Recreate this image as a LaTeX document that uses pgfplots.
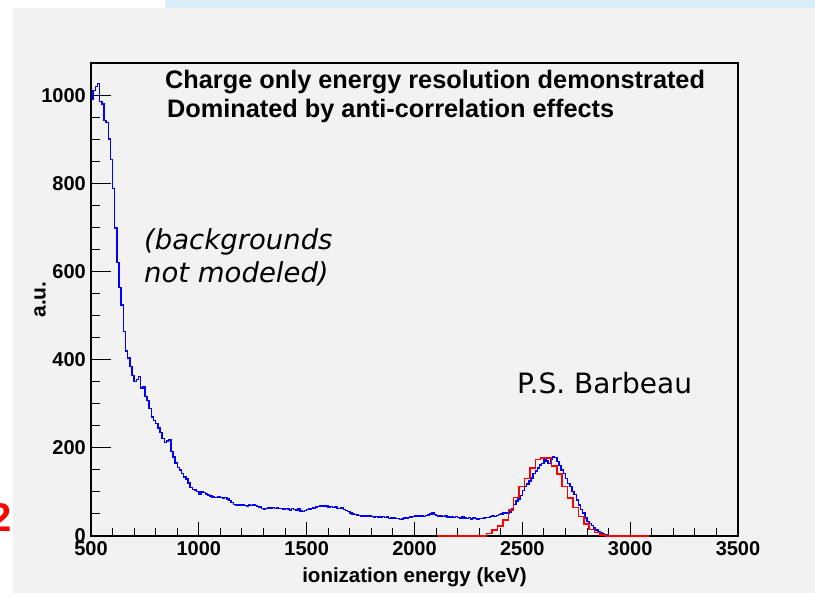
\documentclass[border=0pt]{standalone}
\usepackage{pgfplots}
\pgfplotsset{compat=1.18}
\usepackage{pgfplotstable}
\usepackage{fontspec}
\setmainfont{Liberation Sans}
\newfontfamily\dejavu{DejaVu Sans}
\definecolor{bggray}{HTML}{F2F2F2}
\definecolor{barblue}{HTML}{DCEDFA}
\definecolor{rootblue}{RGB}{0,0,255}
\definecolor{rootred}{RGB}{255,0,0}

\pgfplotstableread{
E V
500 993
510 1012
520 1022
530 1028
540 988
550 982
560 944
570 940
580 902
590 856
600 790
610 700
620 622
630 565
640 525
650 465
660 420
670 404
680 385
690 365
700 351
710 356
720 362
730 336
740 340
750 317
760 308
770 290
780 270
790 263
800 256
810 246
820 235
830 222
840 213
850 216
860 218
870 192
880 180
890 166
900 156
910 150
920 142
930 134
940 129
950 120
960 110
970 106
980 104
990 101
1000 95
1010 100
1020 99
1030 95
1040 93
1050 91
1060 89
1070 88
1080 87
1090 89
1100 88
1110 86
1120 88
1130 84
1140 81
1150 76
1160 72
1170 70
1180 71
1190 69
1200 70
1210 69
1220 68
1230 70
1240 69
1250 70
1260 69
1270 67
1280 66
1290 62
1300 61
1310 63
1320 64
1330 62
1340 65
1350 63
1360 64
1370 62
1380 62
1390 60
1400 63
1410 61
1420 59
1430 62
1440 60
1450 58
1460 62
1470 57
1480 56
1490 58
1500 60
1510 61
1520 63
1530 64
1540 66
1550 67
1560 68
1570 69
1580 67
1590 68
1600 66
1610 67
1620 65
1630 66
1640 63
1650 62
1660 64
1670 60
1680 58
1690 56
1700 52
1710 50
1720 49
1730 48
1740 47
1750 46
1760 45
1770 45
1780 44
1790 46
1800 44
1810 43
1820 44
1830 43
1840 42
1850 44
1860 42
1870 43
1880 40
1890 41
1900 42
1910 40
1920 40
1930 38
1940 39
1950 41
1960 40
1970 42
1980 43
1990 44
2000 45
2010 46
2020 45
2030 46
2040 44
2050 47
2060 48
2070 50
2080 52
2090 49
2100 47
2110 46
2120 45
2130 44
2140 46
2150 43
2160 44
2170 43
2180 42
2190 44
2200 42
2210 41
2220 43
2230 41
2240 40
2250 42
2260 39
2270 41
2280 40
2290 39
2300 40
2310 40
2320 41
2330 42
2340 42
2350 44
2360 45
2370 44
2380 47
2390 49
2400 50
2410 52
2420 53
2430 52
2440 55
2450 63
2460 72
2470 79
2480 84
2490 92
2500 103
2510 113
2520 118
2530 125
2540 132
2550 142
2560 148
2570 154
2580 161
2590 165
2600 173
2610 170
2620 165
2630 175
2640 180
2650 178
2660 169
2670 160
2680 150
2690 142
2700 131
2710 119
2720 113
2730 101
2740 94
2750 82
2760 71
2770 60
2780 52
2790 41
2800 33
2810 28
2820 24
2830 18
2840 14
2850 10
2860 7
2870 4
2880 3
2890 2
2900 1
2910 0
}\bluedata

\pgfplotstableread{
E V
2110 0
2135 0
2160 0
2185 0
2210 0
2235 0
2260 0
2285 0
2310 0
2335 6
2360 14
2385 23
2410 36
2435 59
2460 88
2485 112
2510 131
2535 154
2560 174
2585 177
2610 177
2635 159
2660 141
2685 112
2710 86
2735 65
2760 44
2785 27
2810 15
2835 8
2860 2
2885 0
2910 0
2935 0
2960 0
2985 0
3010 0
3035 0
3060 0
3085 0
}\reddata

\begin{document}
\begin{tikzpicture}
% slide background
\fill[white] (-91pt,-57pt) rectangle (724pt,536pt);
\fill[bggray] (-78pt,-57pt) rectangle (724pt,528pt);
\fill[barblue] (74pt,528pt) rectangle (724pt,536pt);
\begin{scope}
\clip (-91pt,-57pt) rectangle (-78pt,536pt);
\node[anchor=base east, inner sep=0pt, text=rootred, font=\bfseries\fontsize{40}{40}\selectfont] at (-79pt,4pt) {2};
\end{scope}

\pgfplotsset{
  rootaxis/.style={
    scale only axis, width=647pt, height=473pt,
    xmin=500, xmax=3500, ymin=0, ymax=1075,
    tick align=inside,
    xtick pos=bottom, ytick pos=left,
    /pgf/number format/assume math mode=true,
    /pgf/number format/1000 sep={},
    tick label style={font=\bfseries\fontsize{20}{24}\selectfont},
    every tick/.style={black, line width=1pt},
    minor tick style={black, line width=1pt},
  }
}

% y ticks (longer, ROOT style)
\begin{axis}[rootaxis,
  axis line style={draw=none},
  xtick=\empty,
  ytick={0,200,400,600,800,1000},
  minor y tick num=3,
  major tick length=20pt, minor tick length=9pt,
  yticklabel style={anchor=east, inner sep=0pt, xshift=-5pt},
  ylabel={\bfseries\fontsize{21}{24}\selectfont a.u.},
  every axis y label/.style={at={(axis description cs:-0.0788,0.5)}, anchor=center, rotate=90},
]
\end{axis}

% main axis with x ticks, frame and data
\begin{axis}[rootaxis,
  axis line style={black, line width=1.2pt},
  clip=false,
  ytick=\empty,
  xtick={500,1000,1500,2000,2500,3000,3500},
  minor x tick num=4,
  major tick length=14pt, minor tick length=7.5pt,
  xticklabel style={anchor=north, inner sep=0pt, yshift=-5pt},
  xlabel={\bfseries\fontsize{20.5}{24}\selectfont ionization energy (keV)},
  every axis x label/.style={at={(axis description cs:0.5,-0.0867)}, anchor=center},
]
\addplot[rootblue, line width=1.5pt, const plot mark left] table[x=E, y=V] {\bluedata};
\addplot[rootred, line width=1.5pt, const plot mark left] table[x=E, y=V] {\reddata};
\end{axis}

% annotations
\node[anchor=base west, inner sep=0pt, font=\bfseries\fontsize{25.3}{30}\selectfont] at (74pt,447pt) {Charge only energy resolution demonstrated};
\node[anchor=base west, inner sep=0pt, font=\bfseries\fontsize{25.3}{30}\selectfont] at (76pt,418pt) {Dominated by anti-correlation effects};
\node[anchor=base west, inner sep=0pt, font=\dejavu\itshape\fontsize{27.5}{33}\selectfont] at (53pt,286pt) {(backgrounds};
\node[anchor=base west, inner sep=0pt, font=\dejavu\itshape\fontsize{27.5}{33}\selectfont] at (53pt,253pt) {not modeled)};
\node[anchor=base west, inner sep=0pt, font=\dejavu\fontsize{28}{32}\selectfont] at (426pt,142pt) {P.S. Barbeau};

\pgfresetboundingbox
\path[use as bounding box] (-91pt,-57pt) rectangle (724pt,536pt);
\end{tikzpicture}
\end{document}
